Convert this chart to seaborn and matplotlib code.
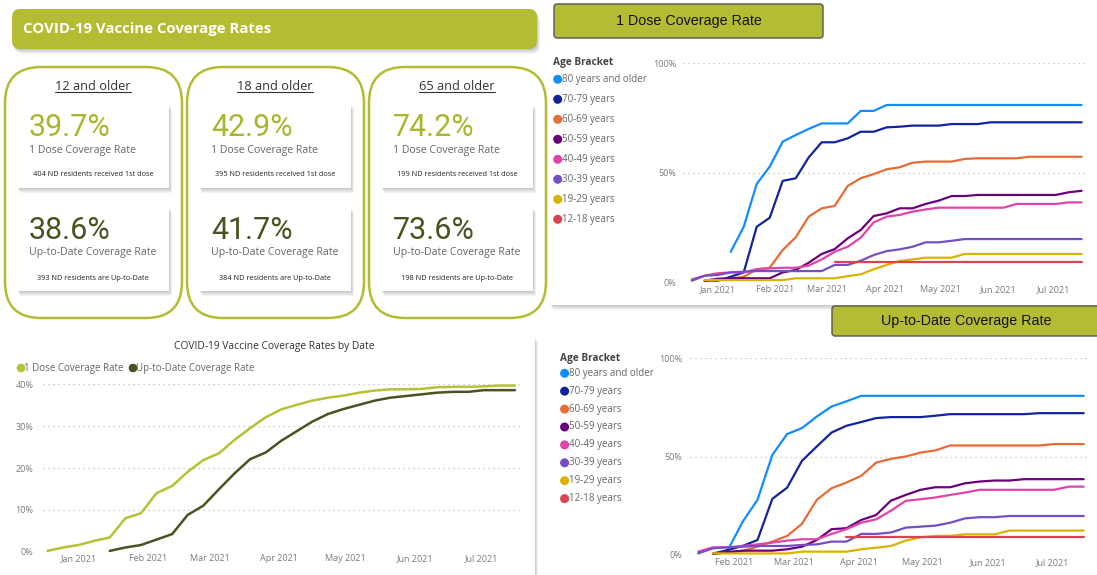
import numpy as np
import pandas as pd
import matplotlib
matplotlib.use('Agg')
import matplotlib.pyplot as plt
import matplotlib.dates as mdates
from matplotlib.patches import FancyBboxPatch, Circle
from matplotlib.ticker import PercentFormatter
import seaborn as sns

W, H = 1097, 575
nan = np.nan

# ---------------- data ----------------
# weekly reporting dates; the up-to-date series start four weeks later
dose_dates = pd.date_range('2020-12-18', periods=31, freq='7D')
utd_dates = dose_dates[4:]

# overall (12 and older) coverage, percent
dose_12plus = [0.2, 1.0, 1.6, 2.6, 3.4, 8.0, 9.2, 14.0, 15.7, 19.1, 21.9, 23.5, 26.7, 29.5, 32.1, 34.0,
               35.1, 36.1, 36.8, 37.3, 38.0, 38.5, 38.8, 38.8, 38.9, 39.3, 39.4, 39.4, 39.5, 39.7, 39.7]
utd_12plus = [0.2, 1.0, 1.6, 2.9, 4.2, 8.8, 11.0, 14.9, 18.7, 22.1, 23.7, 26.5, 28.8, 31.1, 32.9, 34.1,
              35.1, 36.1, 36.8, 37.2, 37.6, 38.0, 38.2, 38.2, 38.6, 38.6, 38.6]

age_brackets = ['80 years and older', '70-79 years', '60-69 years', '50-59 years',
                '40-49 years', '30-39 years', '19-29 years', '12-18 years']
age_colors = ['#118DFF', '#12239E', '#E66C37', '#6B007B', '#E044A7', '#744EC2', '#D9B300', '#D64550']

# 1 dose coverage by age bracket (31 weekly values, percent)
dose_80 = [nan, nan, nan, 14.1, 25.5, 45.0, 52.9, 64.3, 67.3, 70.1, 72.6, 72.6, 72.6, 78.3, 78.3, 81.0,
           81.0, 81.0, 81.0, 81.0, 81.0, 81.0, 81.0, 81.0, 81.0, 81.0, 81.0, 81.0, 81.0, 81.0, 81.0]
dose_70 = [nan, 0.9, 0.9, 2.7, 4.7, 25.5, 29.6, 46.4, 47.6, 57.1, 64.0, 64.0, 65.8, 68.8, 68.8, 70.8,
           71.1, 71.6, 71.6, 71.6, 72.3, 72.3, 72.3, 73.1, 73.1, 73.1, 73.1, 73.1, 73.1, 73.1, 73.1]
dose_60 = [nan, 0.9, 1.2, 1.8, 2.7, 6.1, 6.8, 14.9, 20.7, 30.1, 33.9, 35.0, 44.1, 47.6, 49.5, 51.7,
           52.6, 54.7, 55.2, 55.2, 55.2, 56.4, 56.7, 56.7, 56.7, 56.7, 57.4, 57.4, 57.4, 57.4, 57.4]
dose_50 = [nan, 0.9, 1.8, 2.0, 2.0, 2.0, 2.0, 4.7, 5.8, 9.1, 13.1, 15.3, 20.2, 24.0, 30.4, 31.6,
           33.9, 33.9, 35.9, 37.4, 39.5, 39.5, 40.0, 40.0, 40.0, 40.0, 40.0, 40.0, 40.0, 41.2, 41.9]
dose_40 = [1.5, 3.2, 4.3, 4.7, 4.7, 6.2, 6.5, 6.8, 6.8, 7.8, 10.6, 14.1, 16.4, 20.5, 27.5, 30.1,
           30.9, 32.4, 33.4, 34.2, 34.2, 34.2, 34.2, 34.2, 34.2, 35.9, 35.9, 35.9, 35.9, 36.6, 36.6]
dose_30 = [0.9, 3.2, 3.5, 4.7, 5.0, 5.3, 5.3, 5.3, 5.3, 5.3, 5.3, 8.1, 8.1, 10.0, 12.6, 14.4,
           15.2, 16.4, 18.4, 18.4, 19.1, 19.9, 19.9, 19.9, 19.9, 19.9, 19.9, 19.9, 19.9, 19.9, 19.9]
dose_19 = [nan, 1.2, 1.2, 1.2, 1.2, 1.2, 1.2, 1.2, 2.0, 2.0, 2.0, 2.0, 3.0, 3.8, 6.1, 8.1,
           9.9, 10.6, 11.4, 11.4, 11.4, 13.1, 13.1, 13.1, 13.1, 13.1, 13.1, 13.1, 13.1, 13.1, 13.1]
dose_12 = [nan, nan, nan, nan, nan, nan, nan, nan, nan, nan, nan, 9.3, 9.3, 9.3, 9.3, 9.3,
           9.3, 9.3, 9.3, 9.3, 9.3, 9.3, 9.3, 9.3, 9.3, 9.3, 9.3, 9.3, 9.3, 9.3, 9.3]

# up-to-date coverage by age bracket (27 weekly values, percent)
utd_80 = [nan, 0.8, 2.5, 16.9, 28.0, 50.8, 61.4, 64.4, 70.3, 75.4, 78.0, 80.8, 80.8, 80.8,
          80.8, 80.8, 80.8, 80.8, 80.8, 80.8, 80.8, 80.8, 80.8, 80.8, 80.8, 80.8, 80.8]
utd_70 = [nan, 0.5, 2.5, 4.6, 7.6, 28.5, 34.2, 47.8, 55.1, 62.2, 65.6, 67.5, 69.5, 70.0,
          70.0, 70.0, 70.7, 71.5, 71.5, 71.5, 71.5, 71.5, 71.5, 72.0, 72.0, 72.0, 72.0]
utd_60 = [nan, 0.8, 1.2, 2.0, 4.2, 6.8, 9.7, 15.8, 28.0, 33.9, 36.8, 40.2, 46.9, 48.8,
          50.0, 52.0, 53.1, 55.6, 55.6, 55.6, 55.6, 55.6, 55.6, 55.6, 56.3, 56.3, 56.3]
utd_50 = [nan, 0.5, 1.5, 2.2, 2.2, 2.2, 2.9, 4.2, 7.6, 13.1, 13.6, 17.8, 20.3, 27.6,
          30.5, 33.1, 34.4, 34.4, 36.4, 37.3, 37.8, 37.8, 38.5, 38.5, 38.5, 38.5, 38.5]
utd_40 = [1.7, 3.9, 3.9, 4.6, 5.4, 6.3, 7.3, 8.0, 8.0, 10.7, 13.1, 16.4, 18.1, 22.5,
          27.5, 28.3, 29.2, 30.5, 31.7, 33.1, 33.1, 33.1, 33.1, 33.1, 33.1, 34.7, 34.7]
utd_30 = [0.8, 3.4, 3.9, 4.2, 4.6, 4.6, 4.6, 5.1, 5.4, 6.8, 6.8, 10.7, 10.7, 11.4,
          13.9, 14.4, 14.9, 16.4, 18.6, 19.2, 19.2, 19.8, 19.8, 19.8, 19.8, 19.8, 19.8]
utd_19 = [nan, 0.8, 0.8, 0.8, 0.8, 0.8, 0.8, 1.7, 1.7, 1.7, 1.7, 2.9, 3.7, 4.6,
          7.3, 9.0, 9.7, 9.7, 10.5, 10.5, 10.5, 12.4, 12.4, 12.4, 12.4, 12.4, 12.4]
utd_12 = [nan, nan, nan, nan, nan, nan, nan, nan, nan, nan, 9.3, 9.3, 9.3, 9.3,
          9.3, 9.3, 9.3, 9.3, 9.3, 9.3, 9.3, 9.3, 9.3, 9.3, 9.3, 9.3, 9.3]

# KPI cards
groups = ['12 and older', '18 and older', '65 and older']
dose_rate = ['39.7%', '42.9%', '74.2%']
utd_rate = ['38.6%', '41.7%', '73.6%']
dose_count = [404, 395, 199]
utd_count = [393, 384, 198]

OLIVE = '#B3BC33'
OLIVE_NUM = '#A9B62E'
DARK_OLIVE = '#4A5320'
GREY_TXT = '#666666'
TICK_TXT = '#7A7A7A'

# ---------------- figure ----------------
sns.set_theme(style='white')
plt.rcParams['font.family'] = ['Open Sans', 'DejaVu Sans']

fig = plt.figure(figsize=(W / 100, H / 100), dpi=100)
fig.patch.set_facecolor('white')
bg = fig.add_axes([0, 0, 1, 1])
bg.set_xlim(0, W)
bg.set_ylim(H, 0)
bg.axis('off')
renderer = fig.canvas.get_renderer()


def rbox(x0, y0, w, h, r=0, fc='white', ec='none', lw=0, z=1, shadow=False):
    if shadow:
        for k in range(1, 6):
            bg.add_patch(FancyBboxPatch((x0 + k * 0.6, y0 + k * 1.0), w, h,
                                        boxstyle=f'round,pad=0,rounding_size={r}',
                                        fc='black', ec='none', alpha=0.045, zorder=z - 0.5))
    bg.add_patch(FancyBboxPatch((x0, y0), w, h, boxstyle=f'round,pad=0,rounding_size={r}',
                                fc=fc, ec=ec, lw=lw, zorder=z))


def px_axes(x0, y0, x1, y1):
    return fig.add_axes([x0 / W, 1 - y1 / H, (x1 - x0) / W, (y1 - y0) / H])


def style_chart(ax, yticks, xlim, ylim, ypad):
    ax.set_facecolor('none')
    for s in ax.spines.values():
        s.set_visible(False)
    ax.set_xlim(*xlim)
    ax.set_ylim(*ylim)
    ax.set_yticks(yticks)
    ax.yaxis.set_major_formatter(PercentFormatter(100, decimals=0))
    ax.xaxis.set_major_locator(mdates.MonthLocator())
    ax.xaxis.set_major_formatter(mdates.DateFormatter('%b %Y'))
    ax.tick_params(axis='x', length=0, labelsize=6.5, labelcolor=TICK_TXT, pad=2)
    ax.tick_params(axis='y', length=0, labelsize=6.5, labelcolor=TICK_TXT, pad=ypad)
    ax.grid(axis='y', linestyle=(0, (1, 3)), color='#BDBDBD', lw=0.9)
    ax.grid(axis='x', visible=False)
    ax.set_xlabel('')
    ax.set_ylabel('')


def long_frame(dates, series, names):
    rows = []
    for name, vals in zip(names, series):
        rows.append(pd.DataFrame({'date': dates, 'rate': vals, 'bracket': name}))
    return pd.concat(rows).dropna()


# ---- title banner ----
rbox(12, 9, 525, 40, r=8, fc=OLIVE, z=2, shadow=True)
bg.text(23, 29, 'COVID-19 Vaccine Coverage Rates', color='white', fontsize=10.8,
        fontweight='bold', va='center', ha='left', zorder=3)

# ---- KPI groups ----
box_left = [5, 187, 369]
headers = []
for i, gx in enumerate(box_left):
    rbox(gx, 67, 177, 251, r=36, fc='white', ec=OLIVE, lw=1.8, z=2)
    cx = gx + 12
    headers.append(bg.text(cx + 76, 86, groups[i], ha='center', va='center',
                           fontsize=9.2, color='#333333', zorder=4))
    for top, val, col, lab, sub in [
            (104, dose_rate[i], OLIVE_NUM, '1 Dose Coverage Rate',
             f'{dose_count[i]} ND residents received 1st dose'),
            (207, utd_rate[i], DARK_OLIVE, 'Up-to-Date Coverage Rate',
             f'{utd_count[i]} ND residents are Up-to-Date')]:
        rbox(cx, top, 152, 84, r=0, fc='white', z=3, shadow=True)
        bg.text(cx + 12, top + 32, val, fontsize=22, color=col,
                family=['Roboto', 'DejaVu Sans'], va='baseline', ha='left', zorder=4)
        bg.text(cx + 12, top + 46, lab, fontsize=7.6, color=GREY_TXT, va='center', ha='left', zorder=4)
        bg.text(cx + 76, top + 71, sub, fontsize=5.3, color='#252423', va='center',
                ha='center', zorder=4)

# ---- buttons ----
rbox(554, 4, 269, 34, r=3, fc=OLIVE, ec='#555555', lw=1, z=2)
bg.text(689, 21, '1 Dose Coverage Rate', fontsize=10.3, family=['Liberation Sans', 'DejaVu Sans'],
        color='#111111', ha='center', va='center', zorder=3)
rbox(832, 306, 275, 30, r=3, fc=OLIVE, ec='#555555', lw=1, z=2)
bg.text(966, 321, 'Up-to-Date Coverage Rate', fontsize=10.3, family=['Liberation Sans', 'DejaVu Sans'],
        color='#111111', ha='center', va='center', zorder=3)

# ---- panels ----
rbox(13, 337, 522, 250, r=0, fc='white', z=1, shadow=True)
rbox(550, 50, 560, 255, r=0, fc='white', z=1, shadow=True)
rbox(555, 347, 560, 240, r=0, fc='white', z=1, shadow=True)

palette = dict(zip(age_brackets, age_colors))

# ---- overall coverage chart ----
overall = pd.concat([
    pd.DataFrame({'date': dose_dates, 'rate': dose_12plus, 'measure': '1 Dose Coverage Rate'}),
    pd.DataFrame({'date': utd_dates, 'rate': utd_12plus, 'measure': 'Up-to-Date Coverage Rate'}),
])
overall_colors = {'1 Dose Coverage Rate': '#B5C235', 'Up-to-Date Coverage Rate': DARK_OLIVE}
ax1 = px_axes(43, 384.3, 523, 551.7)
sns.lineplot(data=overall, x='date', y='rate', hue='measure', palette=overall_colors,
             estimator=None, legend=False, lw=1.8, ax=ax1)
style_chart(ax1, [0, 10, 20, 30, 40],
            (dose_dates[0] - pd.Timedelta(days=2), dose_dates[-1] + pd.Timedelta(days=3.6)),
            (0, 40), 7)
for ln in ax1.lines:
    ln.set_clip_on(False)
bg.text(274, 346, 'COVID-19 Vaccine Coverage Rates by Date', fontsize=7.4, color='#333333',
        ha='center', va='center', zorder=3)
lx = 21
for name, col in overall_colors.items():
    bg.add_patch(Circle((lx, 368), 3.6, color=col, zorder=3))
    t = bg.text(lx + 3.5, 368, name, fontsize=7, color=GREY_TXT, va='center', ha='left', zorder=3)
    lx = t.get_window_extent(renderer).x1 + 9

# ---- 1 dose by age ----
dose_age = long_frame(dose_dates, [dose_80, dose_70, dose_60, dose_50, dose_40, dose_30, dose_19, dose_12],
                      age_brackets)
ax2 = px_axes(683, 63.3, 1087, 282.7)
sns.lineplot(data=dose_age, x='date', y='rate', hue='bracket', hue_order=age_brackets,
             palette=palette, estimator=None, legend=False, lw=1.6, ax=ax2)
style_chart(ax2, [0, 50, 100],
            (dose_dates[0] - pd.Timedelta(days=4.7), dose_dates[-1] + pd.Timedelta(days=2.9)),
            (0, 100), 5)

# ---- up-to-date by age ----
utd_age = long_frame(utd_dates, [utd_80, utd_70, utd_60, utd_50, utd_40, utd_30, utd_19, utd_12],
                     age_brackets)
ax3 = px_axes(689.5, 358, 1089, 555)
sns.lineplot(data=utd_age, x='date', y='rate', hue='bracket', hue_order=age_brackets,
             palette=palette, estimator=None, legend=False, lw=1.6, ax=ax3)
style_chart(ax3, [0, 50, 100],
            (utd_dates[0] - pd.Timedelta(days=4.1), utd_dates[-1] + pd.Timedelta(days=2.5)),
            (0, 100), 5)

# ---- age legends ----
for (tx, ty, dx, y0, step) in [(553, 63, 557.7, 79.3, 20), (560.5, 358.5, 564.6, 373.3, 17.9)]:
    bg.text(tx, ty, 'Age Bracket', fontsize=7.3, fontweight='bold', color='#444444',
            va='center', ha='left', zorder=3)
    for k, (name, col) in enumerate(zip(age_brackets, age_colors)):
        yy = y0 + k * step
        bg.add_patch(Circle((dx, yy), 3.8, color=col, zorder=3))
        bg.text(dx + 4.5, yy, name, fontsize=7, color=GREY_TXT, va='center', ha='left', zorder=3)

# underline the KPI group headers
for t in headers:
    bb = t.get_window_extent(renderer)
    bg.plot([bb.x0, bb.x1], [H - bb.y0 - 0.5, H - bb.y0 - 0.5], color='#333333', lw=0.8, zorder=4)

fig.savefig('out.png', dpi=100, facecolor='white')
